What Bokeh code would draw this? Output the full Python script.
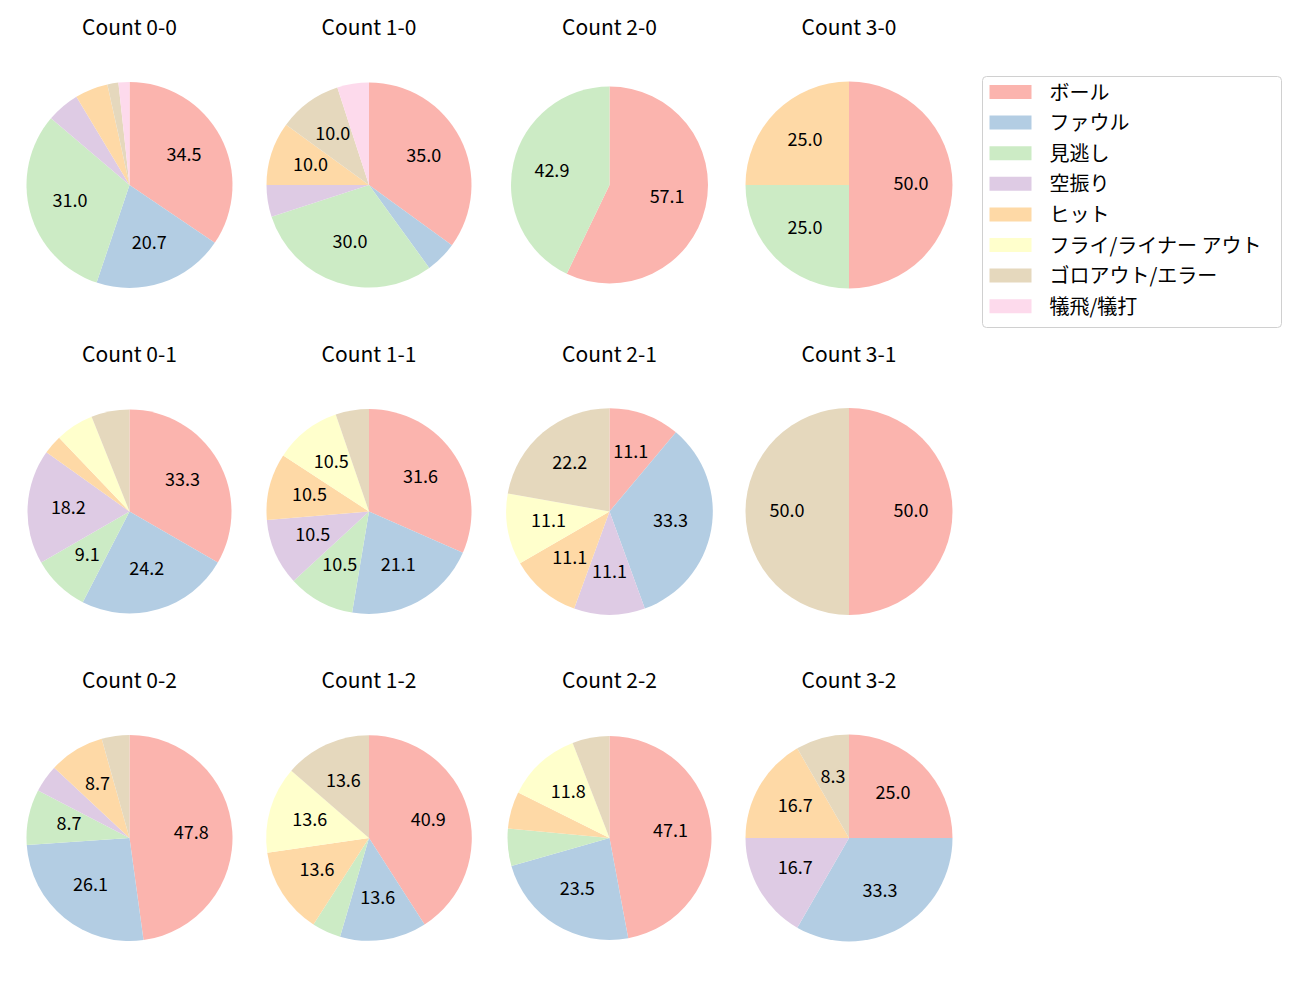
import math
from bokeh.plotting import figure
from bokeh.models import Range1d, ColumnDataSource
from bokeh.core.properties import value
from bokeh.embed import file_html
from bokeh.resources import INLINE

# ---------------- data ----------------
categories = ["ボール", "ファウル", "見逃し", "空振り", "ヒット",
              "フライ/ライナー アウト", "ゴロアウト/エラー", "犠飛/犠打"]
colors = ["#fbb4ae", "#b3cde3", "#ccebc5", "#decbe4",
          "#fed9a6", "#ffffcc", "#e5d8bd", "#fddaec"]

titles = ["Count 0-0", "Count 1-0", "Count 2-0", "Count 3-0",
          "Count 0-1", "Count 1-1", "Count 2-1", "Count 3-1",
          "Count 0-2", "Count 1-2", "Count 2-2", "Count 3-2"]

counts_0_0 = [20, 12, 18, 3, 3, 0, 1, 1]
counts_1_0 = [7, 1, 6, 1, 2, 0, 2, 1]
counts_2_0 = [4, 0, 3, 0, 0, 0, 0, 0]
counts_3_0 = [2, 0, 1, 0, 1, 0, 0, 0]
counts_0_1 = [11, 8, 3, 6, 1, 2, 2, 0]
counts_1_1 = [6, 4, 2, 2, 2, 2, 1, 0]
counts_2_1 = [1, 3, 0, 1, 1, 1, 2, 0]
counts_3_1 = [1, 0, 0, 0, 0, 0, 1, 0]
counts_0_2 = [11, 6, 2, 1, 2, 0, 1, 0]
counts_1_2 = [9, 3, 1, 0, 3, 3, 3, 0]
counts_2_2 = [8, 4, 1, 0, 1, 2, 1, 0]
counts_3_2 = [3, 4, 0, 2, 2, 0, 1, 0]

all_counts = [counts_0_0, counts_1_0, counts_2_0, counts_3_0,
              counts_0_1, counts_1_1, counts_2_1, counts_3_1,
              counts_0_2, counts_1_2, counts_2_2, counts_3_2]

# ---------------- layout (screen pixels) ----------------
COL_X = [129.0, 368.5, 609.0, 848.5]
ROW_Y = [184.5, 511.0, 837.5]
RADII = [103, 102.5, 98.5, 103.5,
         102, 102.5, 103.3, 103.5,
         103, 102.8, 102, 103.5]
TITLE_DY = -159.0
TEXT_SHIFT = 2.0
LABEL_MIN_PCT = 7.0
FONT = "Noto Sans CJK JP"

W, H = 1284, 984


def Y(sy):
    return 1000 - sy


p = figure(width=W, height=H, x_range=Range1d(0, W), y_range=Range1d(1000 - H, 1000),
           output_backend="svg", toolbar_location=None, min_border=0,
           x_axis_type=None, y_axis_type=None)
p.grid.visible = False
p.outline_line_color = None
p.background_fill_color = "white"
p.border_fill_color = "white"

wx, wy, wr, ws, we, wc = [], [], [], [], [], []
lx, ly, lt = [], [], []
tx, ty, tt = [], [], []

for i, counts in enumerate(all_counts):
    row, col = divmod(i, 4)
    cx = COL_X[col]
    cy = Y(ROW_Y[row])
    r = RADII[i]
    total = float(sum(counts))
    cum = 0.0
    for k, c in enumerate(counts):
        if c == 0:
            continue
        f0 = cum / total
        f1 = (cum + c) / total
        cum += c
        wx.append(cx)
        wy.append(cy)
        wr.append(r)
        ws.append(90 - 360 * f1)
        we.append(90 - 360 * f0)
        wc.append(colors[k])
        pct = 100.0 * c / total
        if pct >= LABEL_MIN_PCT:
            mid = math.radians(90 - 360 * (f0 + f1) / 2)
            lx.append(cx + 0.6 * r * math.cos(mid))
            ly.append(cy + 0.6 * r * math.sin(mid) + TEXT_SHIFT)
            lt.append(f"{pct:.1f}")
    tx.append(cx)
    ty.append(Y(ROW_Y[row] + TITLE_DY))
    tt.append(titles[i])

wsrc = ColumnDataSource(dict(x=wx, y=wy, r=wr, s=ws, e=we, c=wc))
p.wedge(x="x", y="y", radius="r", start_angle="s", end_angle="e",
        start_angle_units="deg", end_angle_units="deg",
        fill_color="c", line_color=None, source=wsrc)

p.text(x=lx, y=ly, text=lt, text_font=value(FONT), text_font_size="18px",
       text_align="center", text_baseline="middle", text_color="#000000")
p.text(x=tx, y=ty, text=tt, text_font=value(FONT), text_font_size="21px",
       text_align="center", text_baseline="middle", text_color="#000000")

# ---------------- legend ----------------
LEG_L, LEG_R, LEG_T, LEG_B = 982, 1281, 76, 327
LEG_ROW0, LEG_DY = 91.5, 30.6
p.quad(left=LEG_L, right=LEG_R, top=Y(LEG_T), bottom=Y(LEG_B),
       fill_color="white", line_color="#d0d0d0", line_width=1, border_radius=4)
ey = [Y(LEG_ROW0 + k * LEG_DY) for k in range(len(categories))]
p.quad(left=[989] * len(categories), right=[1031] * len(categories),
       top=[y + 7 for y in ey], bottom=[y - 7 for y in ey],
       fill_color=colors, line_color=None)
p.text(x=[1049] * len(categories), y=[y + 1 for y in ey], text=categories,
       text_font=value(FONT), text_font_size="20px", text_align="left",
       text_baseline="middle", text_color="#000000")

open("out.html", "w").write(file_html(p, INLINE))
